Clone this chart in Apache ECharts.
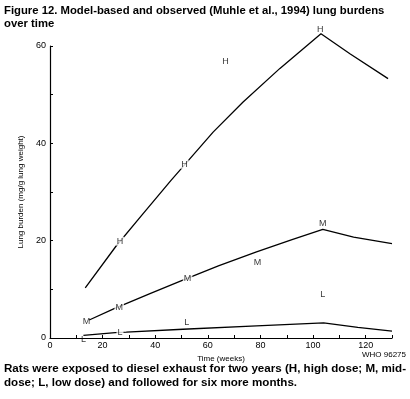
<!DOCTYPE html>
<html>
<head>
<meta charset="utf-8">
<script src="https://cdn.jsdelivr.net/npm/echarts@6/dist/echarts.min.js"></script>
<style>
  html, body { margin: 0; padding: 0; background: #fff; }
  #chart { width: 410px; height: 399px; }
</style>
</head>
<body>
<div id="chart"></div>
<script>
// model curves (weeks, lung burden mg/g)
const highWeeks = [13.4, 25, 35, 46, 62, 73.4, 87.4, 103, 114, 128.5];
const highModel = [10.3, 18.8, 25.3, 32.4, 42.3, 48.5, 55.4, 62.5, 58.4, 53.3];
const midWeeks = [14.9, 24.4, 38, 50.5, 64, 78.5, 92, 103.7, 115.4, 130];
const midModel = [3.7, 6.05, 9.1, 11.9, 14.8, 17.7, 20.2, 22.3, 20.75, 19.4];
const lowWeeks = [12.7, 24.8, 29, 50.5, 78.5, 104, 117, 130];
const lowModel = [0.55, 1.1, 1.2, 1.8, 2.5, 3.1, 2.2, 1.4];

// observed values (Muhle et al., 1994)
const highObsWeeks = [26.6, 51.1, 66.7, 102.7];
const highObs = [19.9, 35.7, 56.9, 63.4];
const midObsWeeks = [13.9, 26.3, 52.3, 78.9, 103.7];
const midObs = [3.3, 6.2, 12.2, 15.6, 23.6];
const lowObsWeeks = [12.7, 26.6, 52, 103.7];
const lowObs = [-0.3, 1.1, 3.2, 9.0];
// which observed labels sit on a model line (line gets broken there)
const highOnLine = [true, true, false, false];
const midOnLine = [false, true, true, false, false];
const lowOnLine = [false, true, false, false];

const xTicks = [0, 20, 40, 60, 80, 100, 120];
const yTicks = [0, 20, 40, 60];

const zip = (xs, ys) => xs.map((x, i) => [x, ys[i]]);

const chart = echarts.init(document.getElementById('chart'));

function modelLine(xs, ys) {
  return {
    type: 'line',
    data: zip(xs, ys),
    symbol: 'none',
    clip: false,
    z: 2,
    lineStyle: { color: '#000', width: 1.3 },
    animation: false
  };
}

function obsLabels(xs, ys, letter, onLine) {
  return {
    type: 'scatter',
    data: xs.map((x, i) => ({
      value: [x, ys[i]],
      label: { backgroundColor: onLine[i] ? '#fff' : 'transparent' }
    })),
    symbolSize: 1,
    clip: false,
    z: 5,
    itemStyle: { color: 'rgba(0,0,0,0)' },
    label: {
      show: true,
      position: 'inside',
      formatter: letter,
      color: '#000',
      fontFamily: 'Liberation Sans',
      fontSize: 9,
      padding: [0, 1]
    },
    animation: false
  };
}

const option = {
  backgroundColor: '#fff',
  grid: { left: 50, right: 18, top: 46, bottom: 61 },
  xAxis: {
    type: 'value',
    min: 0,
    max: 130,
    interval: 10,
    name: 'Time (weeks)',
    nameLocation: 'middle',
    nameGap: 17,
    nameTextStyle: { fontFamily: 'Liberation Sans', fontSize: 8, color: '#000' },
    axisLine: { lineStyle: { color: '#000', width: 1.2 } },
    axisTick: { inside: true, length: 3, lineStyle: { color: '#000' } },
    axisLabel: {
      margin: 3,
      fontFamily: 'Liberation Sans',
      fontSize: 9,
      color: '#000',
      formatter: v => (xTicks.includes(v) ? String(v) : '')
    },
    splitLine: { show: false }
  },
  yAxis: {
    type: 'value',
    min: 0,
    max: 60,
    interval: 10,
    name: 'Lung burden (mg/g lung weight)',
    nameLocation: 'middle',
    nameGap: 25,
    nameTextStyle: { fontFamily: 'Liberation Sans', fontSize: 8, color: '#000' },
    axisLine: { show: true, lineStyle: { color: '#000', width: 1.2 } },
    axisTick: { show: true, inside: true, length: 3, lineStyle: { color: '#000' } },
    axisLabel: {
      margin: 4,
      fontFamily: 'Liberation Sans',
      fontSize: 9,
      color: '#000',
      formatter: v => (yTicks.includes(v) ? String(v) : '')
    },
    splitLine: { show: false }
  },
  series: [
    modelLine(highWeeks, highModel),
    modelLine(midWeeks, midModel),
    modelLine(lowWeeks, lowModel),
    obsLabels(highObsWeeks, highObs, 'H', highOnLine),
    obsLabels(midObsWeeks, midObs, 'M', midOnLine),
    obsLabels(lowObsWeeks, lowObs, 'L', lowOnLine)
  ],
  graphic: [
    {
      type: 'text',
      left: 4,
      top: 4,
      style: {
        text: 'Figure 12. Model-based and observed (Muhle et al., 1994) lung burdens\nover time',
        font: 'bold 11.3px "Liberation Sans"',
        fill: '#000',
        lineHeight: 13
      }
    },
    {
      type: 'text',
      left: 362,
      top: 351,
      style: {
        text: 'WHO 96275',
        font: '8px "Liberation Sans"',
        fill: '#000'
      }
    },
    {
      type: 'text',
      left: 4,
      top: 362,
      style: {
        text: 'Rats were exposed to diesel exhaust for two years (H, high dose; M, mid-\ndose; L, low dose) and followed for six more months.',
        font: 'bold 11.6px "Liberation Sans"',
        fill: '#000',
        lineHeight: 14
      }
    }
  ]
};

chart.setOption(option);
</script>
</body>
</html>
